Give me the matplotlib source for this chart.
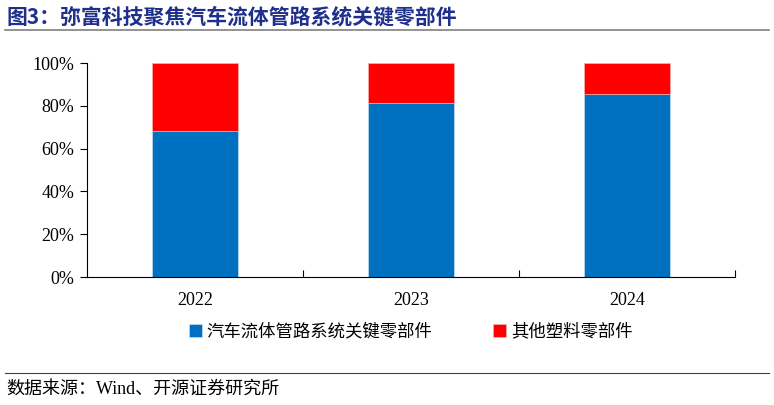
import matplotlib.pyplot as plt
import numpy as np

years = ['2022', '2023', '2024']
key_parts = [68.2, 81.3, 85.3]
other_parts = [31.8, 18.7, 14.7]
series_names = ['汽车流体管路系统关键零部件', '其他塑料零部件']
title = '图3：弥富科技聚焦汽车流体管路系统关键零部件'
source = '数据来源：Wind、开源证券研究所'

plt.rcParams['font.family'] = ['Liberation Serif', 'Noto Sans CJK SC']

fig = plt.figure(figsize=(7.74, 4.05), dpi=100)
ax = fig.add_axes([0.1124, 0.316, 0.837, 0.5284])

x = np.arange(len(years))
ax.bar(x, key_parts, 0.4, color='#0070C0', edgecolor='#d8e4f0', linewidth=0.4,
       label=series_names[0])
ax.bar(x, other_parts, 0.4, bottom=key_parts, color='#FF0000', edgecolor='#f4c0c0',
       linewidth=0.4, label=series_names[1])

ax.set_xlim(-0.5, 2.5)
ax.set_ylim(0, 100)
ax.set_yticks(range(0, 101, 20))
ax.set_yticklabels([f'{v}%' for v in range(0, 101, 20)], fontsize=13)
ax.set_xticks(x)
ax.set_xticklabels(years, fontsize=13)
ax.tick_params(axis='x', length=0, pad=11)
ax.set_xticks([0.5, 1.5, 2.5], minor=True)
ax.tick_params(axis='x', which='minor', direction='in', length=5, width=0.8)
ax.tick_params(axis='y', direction='out', length=5, width=0.8, pad=4)
for s in ['top', 'right']:
    ax.spines[s].set_visible(False)
ax.spines['left'].set_linewidth(0.8)
ax.spines['bottom'].set_linewidth(0.8)

ax.legend(loc='center', bbox_to_anchor=(0.5, -0.255), ncol=2, frameon=False,
          handlelength=0.7, handleheight=0.7, handletextpad=0.3, columnspacing=3.5,
          prop={'family': ['Noto Sans CJK SC'], 'size': 12.5})

fig.text(0.008, 0.957, title, fontsize=15, fontweight='bold', color='#1F2F8C',
         family=['Noto Sans CJK SC'], va='center')
fig.add_artist(plt.Line2D([0.006, 0.994], [0.925, 0.925], color='#808080', lw=1.2))
fig.add_artist(plt.Line2D([0.006, 0.994], [0.08, 0.08], color='#404040', lw=0.8))
fig.text(0.008, 0.04, source, fontsize=13, va='center',
         family=['Liberation Serif', 'Noto Sans CJK SC'])

fig.savefig('out.png', dpi=100)
